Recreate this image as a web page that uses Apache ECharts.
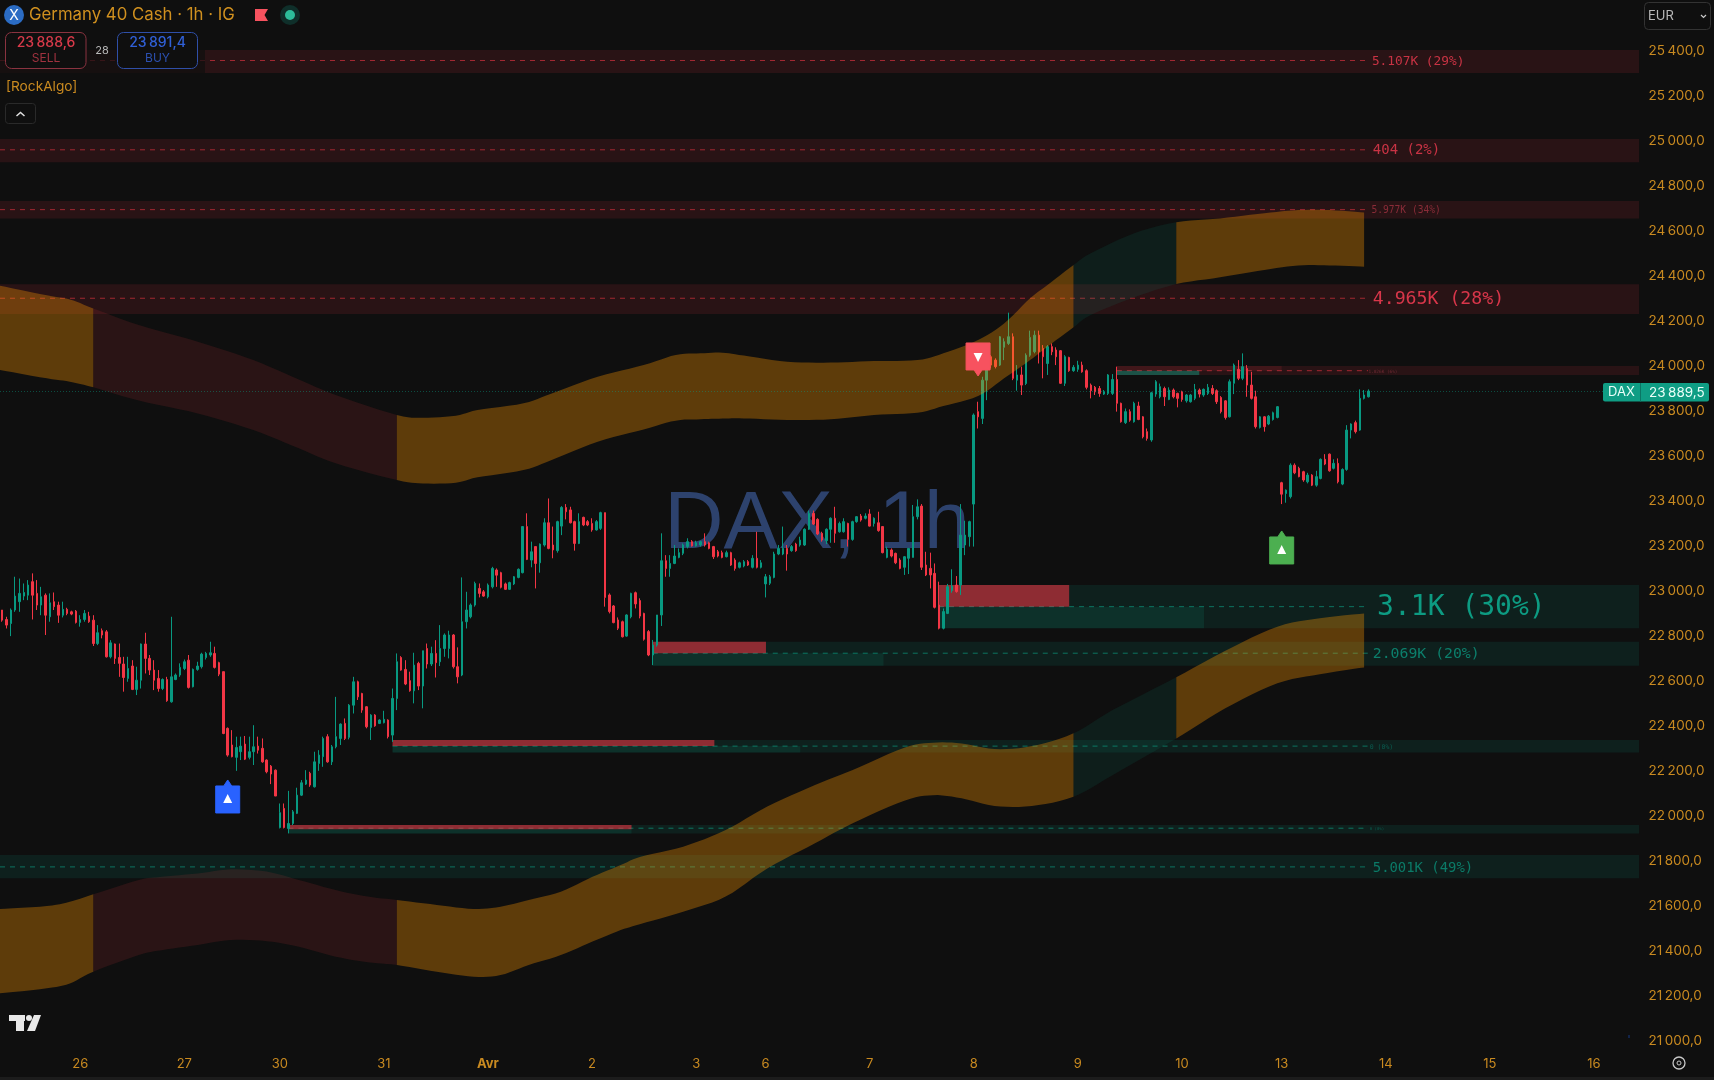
<!DOCTYPE html>
<html><head><meta charset="utf-8">
<style>html,body{margin:0;padding:0;background:#0f0f0f;overflow:hidden}#c{width:1714px;height:1080px}</style>
<script src="https://cdn.jsdelivr.net/npm/echarts@6/dist/echarts.min.js"></script>
</head><body><div id="c"></div>
<script>
const lastPrice = 23889.5;
const barCount = 378;
const tickIndex = [18,42,64,88,112,136,160,176,200,224,248,272,295,319,343,367];
const tickLabels = ['26','27','30','31','Avr','2','3','6','7','8','9','10','13','14','15','16'];
const priceMin = 21000, priceMax = 25600, priceStep = 200;
// [open, close, low, high]
const ohlc = [
[22916,22871,22864,22916],[22874,22849,22834,22886],[22856,22916,22800,22923],[22916,22978,22908,23064],[22953,22990,22908,23056],
[22978,22994,22960,23034],[22982,23027,22960,23049],[23042,22982,22874,23079],[22990,22938,22916,23049],[22938,22975,22893,23019],
[22982,22893,22805,22990],[22886,22948,22864,22990],[22953,22931,22916,22994],[22938,22893,22859,22953],[22893,22919,22883,22953],
[22919,22901,22893,22926],[22908,22898,22893,22913],[22911,22861,22856,22916],[22861,22874,22842,22893],[22874,22901,22864,22916],
[22889,22864,22859,22908],[22871,22767,22756,22893],[22767,22815,22760,22849],[22824,22805,22790,22834],[22819,22708,22705,22827],
[22708,22770,22701,22782],[22765,22701,22676,22767],[22705,22679,22619,22767],[22676,22616,22553,22708],[22612,22656,22597,22708],
[22667,22563,22560,22693],[22563,22604,22538,22664],[22604,22765,22567,22767],[22765,22701,22634,22815],[22701,22649,22627,22716],
[22649,22604,22560,22693],[22612,22567,22553,22649],[22567,22607,22560,22612],[22607,22513,22508,22619],[22508,22619,22504,22886],
[22607,22627,22604,22634],[22627,22661,22619,22679],[22656,22686,22649,22696],[22693,22572,22567,22716],[22575,22652,22572,22656],
[22652,22667,22646,22686],[22664,22720,22656,22726],[22705,22723,22696,22730],[22716,22726,22708,22775],[22723,22661,22656,22753],
[22682,22631,22622,22686],[22642,22367,22364,22642],[22390,22271,22264,22394],[22316,22264,22261,22382],[22261,22305,22201,22353],
[22286,22311,22249,22353],[22320,22253,22249,22356],[22261,22286,22252,22353],[22286,22308,22227,22404],[22311,22293,22278,22353],
[22301,22241,22237,22345],[22249,22197,22190,22252],[22222,22187,22142,22227],[22204,22089,22089,22207],[21949,22015,21945,22056],
[22034,21949,21945,22056],[21945,21967,21923,22112],[21967,22019,21960,22027],[22012,22093,22009,22126],[22093,22148,22089,22160],
[22142,22160,22138,22204],[22190,22138,22130,22197],[22130,22241,22127,22286],[22234,22271,22201,22293],[22264,22345,22219,22353],
[22353,22241,22237,22364],[22241,22308,22227,22316],[22308,22353,22301,22530],[22345,22409,22316,22412],[22412,22345,22338,22434],
[22350,22493,22341,22498],[22493,22597,22456,22619],[22597,22530,22516,22602],[22545,22471,22459,22548],[22486,22397,22390,22489],
[22394,22449,22338,22453],[22449,22401,22397,22453],[22412,22427,22409,22430],[22415,22430,22412,22468],[22427,22353,22345,22430],
[22360,22523,22330,22567],[22523,22686,22471,22723],[22705,22649,22646,22711],[22652,22587,22582,22693],[22602,22557,22553,22642],
[22557,22671,22501,22726],[22679,22578,22560,22686],[22578,22735,22479,22735],[22745,22676,22656,22767],[22676,22723,22667,22753],
[22723,22682,22616,22782],[22686,22745,22667,22849],[22745,22805,22708,22812],[22745,22805,22701,22824],[22805,22664,22656,22809],
[22664,22619,22590,22750],[22627,22864,22622,23061],[22864,22916,22834,22997],[22886,22938,22879,22945],[22938,23034,22931,23042],
[23012,22990,22972,23034],[22997,22978,22975,23005],[22975,23027,22968,23034],[23019,23101,23012,23108],[23094,23071,23019,23101],
[23082,23017,23012,23086],[23032,23008,23005,23038],[23008,23038,23005,23042],[23032,23064,23027,23067],[23061,23097,23057,23101],
[23082,23287,23079,23289],[23287,23141,23138,23346],[23138,23175,23106,23220],[23198,23123,23012,23198],[23126,23209,23082,23212],
[23205,23304,23198,23324],[23304,23190,23186,23412],[23205,23183,23146,23287],[23180,23309,23171,23313],[23289,23372,23249,23378],
[23372,23353,23319,23387],[23361,23304,23301,23375],[23309,23212,23180,23313],[23212,23309,23209,23346],[23328,23294,23289,23331],
[23309,23294,23289,23316],[23301,23272,23264,23324],[23272,23309,23269,23316],[23279,23349,23272,23353],[23349,22972,22931,23349],
[22983,22909,22901,22990],[22934,22860,22857,22938],[22872,22835,22827,22883],[22864,22797,22794,22869],[22800,22894,22797,22897],
[22886,22990,22879,22993],[22993,22943,22923,22998],[22958,22889,22879,22968],[22901,22786,22780,22904],[22820,22716,22711,22827],
[22716,22760,22671,22783],[22760,22894,22753,22894],[22894,23135,22845,23257],[23135,23101,23064,23160],[23101,23123,23064,23160],
[23123,23156,23120,23205],[23150,23171,23146,23190],[23168,23205,23160,23212],[23198,23220,23190,23235],[23220,23201,23198,23227],
[23201,23215,23198,23224],[23205,23220,23198,23224],[23220,23205,23198,23257],[23215,23190,23186,23220],[23198,23153,23143,23201],
[23175,23156,23150,23183],[23171,23150,23146,23180],[23153,23171,23150,23180],[23171,23116,23112,23175],[23138,23101,23091,23146],
[23106,23126,23101,23131],[23112,23131,23106,23138],[23131,23116,23112,23138],[23106,23146,23101,23160],[23146,23106,23101,23264],
[23106,23126,23101,23138],[23032,23064,22972,23076],[23035,23064,23027,23072],[23061,23165,23057,23175],[23165,23190,23160,23205],
[23165,23190,23160,23287],[23190,23165,23091,23205],[23180,23198,23175,23205],[23209,23180,23175,23215],[23205,23227,23198,23242],
[23205,23275,23201,23279],[23275,23346,23272,23358],[23346,23298,23294,23358],[23319,23254,23249,23324],[23257,23227,23220,23264],
[23224,23275,23209,23279],[23275,23324,23215,23328],[23324,23257,23215,23375],[23264,23301,23260,23309],[23264,23309,23260,23324],
[23301,23230,23198,23304],[23230,23309,23224,23313],[23309,23331,23304,23334],[23334,23316,23309,23343],[23324,23334,23319,23346],
[23343,23289,23287,23364],[23301,23324,23287,23328],[23304,23269,23264,23353],[23287,23171,23168,23289],[23150,23186,23146,23198],
[23183,23156,23150,23190],[23168,23126,23120,23171],[23138,23101,23097,23146],[23106,23153,23072,23156],[23146,23190,23076,23190],
[23150,23331,23150,23383],[23331,23375,23319,23408],[23378,23106,23094,23387],[23116,23072,23067,23175],[23101,23072,23012,23171],
[23079,22928,22923,23123],[22938,22835,22830,23042],[22835,22909,22830,22923],[22901,23020,22898,23032],[23002,23023,22993,23097],
[23027,22998,22993,23067],[23027,23249,22983,23387],[23205,23249,23160,23313],[23242,23309,23198,23313],[23387,23783,23198,23790],
[23798,23775,23723,23842],[23768,23938,23743,23953],[23938,24049,23849,24049],[24042,24005,23990,24049],[24027,23998,23990,24035],
[24005,24131,24001,24134],[24084,24109,24027,24124],[24101,24131,24094,24238],[24131,23946,23938,24146],[23938,23961,23891,24005],
[23961,23916,23872,23998],[23923,24049,23916,24057],[24049,24128,24042,24158],[24064,24138,24057,24158],[24138,24064,24012,24158],
[24079,24042,23946,24094],[24012,24087,23961,24094],[24087,24064,24049,24101],[24072,24042,24005,24084],[24069,23924,23921,24072],
[23924,24042,23912,24049],[24039,23980,23975,24042],[23980,23995,23975,24005],[23986,24005,23975,24024],[24005,23975,23971,24020],
[23980,23906,23897,23986],[23916,23891,23857,23923],[23906,23886,23872,23912],[23901,23879,23864,23912],[23876,23886,23872,23894],
[23879,23961,23872,23965],[23879,23941,23872,23965],[23941,23835,23798,23998],[23835,23753,23749,23838],[23749,23798,23743,23812],
[23798,23760,23753,23808],[23753,23835,23749,23842],[23823,23763,23760,23842],[23775,23686,23679,23778],[23709,23679,23669,23723],
[23672,23882,23664,23886],[23876,23931,23864,23938],[23864,23909,23857,23923],[23901,23864,23823,23909],[23852,23894,23849,23906],
[23894,23864,23857,23901],[23879,23857,23817,23882],[23886,23852,23842,23891],[23846,23872,23838,23876],[23842,23872,23838,23876],
[23857,23897,23849,23921],[23894,23876,23861,23901],[23872,23897,23864,23901],[23879,23906,23872,23921],[23901,23879,23872,23916],
[23891,23842,23832,23897],[23861,23798,23790,23867],[23846,23772,23763,23849],[23775,23931,23772,23941],[23924,24005,23876,24012],
[23986,23946,23938,24027],[23946,23998,23938,24057],[23990,23916,23864,24005],[23916,23857,23852,23975],[23864,23731,23723,23891],
[23728,23775,23723,23778],[23775,23731,23709,23778],[23743,23778,23738,23783],[23763,23793,23758,23798],[23772,23820,23768,23823],
[23482,23431,23387,23486],[23434,23449,23393,23452],[23420,23560,23412,23568],[23560,23526,23520,23568],[23546,23509,23506,23553],
[23531,23494,23486,23535],[23486,23516,23479,23526],[23516,23471,23467,23520],[23471,23509,23464,23535],[23501,23586,23497,23590],
[23586,23565,23560,23609],[23609,23535,23531,23612],[23546,23568,23541,23586],[23568,23486,23479,23590],[23476,23541,23471,23546],
[23541,23716,23535,23738],[23716,23743,23679,23746],[23749,23709,23701,23758],[23716,23857,23713,23897],[23857,23872,23852,23894],
[23864,23889.5,23861,23897]
];
// Upper band
const topBandBar = [-0.5,10.3,15.6,21,31.5,45.1,57.9,68.4,76.9,91,97,104.6,109.6,120.2,126.7,137.3,147.9,155.3,161,166.1,171,181,191,201,211,217,225,231,237,241,247,251,261,270.7,280.8,291,298.8,306,314];
const topBandHigh = [24358,24315,24297,24257,24183,24109,24027,23941,23872,23783,23771,23780,23805,23835,23879,23953,24005,24050,24057,24060,24047,24020,24016,24023,24027,24057,24116,24190,24302,24361,24450,24502,24591,24640,24657,24680,24694,24694,24683];
const topBandLow = [23983,23946,23931,23906,23847,23790,23716,23635,23568,23494,23479,23482,23506,23538,23583,23664,23719,23758,23764,23767,23768,23761,23764,23783,23793,23823,23867,23946,24027,24087,24173,24228,24306,24365,24395,24428,24448,24448,24442];
// Lower band
const lowBandBar = [-0.5,10.3,15.6,21,31.5,36.8,45.1,52.7,61,68.4,76.9,84.3,91,100.2,108.7,114.9,121.4,128.8,136.1,142.6,147.2,157,166.8,176.4,187.4,196.1,208,214.6,221.2,228.8,237.4,247,256,270.7,282,294,303.8,314];
const lowBandHigh = [21587,21600,21619,21652,21716,21730,21745,21763,21753,21716,21671,21642,21627,21605,21587,21597,21627,21664,21730,21782,21819,21864,21938,22042,22138,22205,22304,22326,22323,22298,22311,22368,22471,22617,22735,22842,22879,22901];
const lowBandLow = [21212,21234,21256,21308,21382,21404,21427,21449,21444,21419,21375,21350,21338,21308,21286,21293,21338,21382,21442,21493,21520,21575,21642,21767,21879,21968,22068,22093,22079,22045,22045,22086,22182,22345,22479,22590,22630,22661];
const bandBreaks = [-0.5,21,91,247,270.7,314];
// Liquidity levels
const levelTop = [25406,25010,24734,24364,24001,23027,22775,22338,21960,21827];
const levelBottom = [25303,24907,24657,24232,23961,22835,22668,22283,21923,21723];
const levelMid = [25359,24962,24696,24302,23980,22931,22724,22311,21946,21774];
const levelStart = [-0.5,-0.5,-0.5,-0.5,257,216,150,90,66,-0.5];
const levelLabels = ['5.107K (29%)','404 (2%)','5.977K (34%)','4.965K (28%)','1.026K (6%)','3.1K (30%)','2.069K (20%)','0 (0%)','0 (0%)','5.001K (49%)'];
const levelIsSell = [1,1,1,1,1,0,0,0,0,0];
// Order blocks inside levels: start bar, end bar, top, bottom
const redBlocks = [[216,246,23027,22931],[150,176.1,22775,22724],[90,164.2,22338,22311],[66,145.1,21960,21941]];
const tealBlocks = [[216,277.1,22931,22835],[150,203.2,22724,22668],[90,184,22311,22283],[66,145.1,21941,21923],[257,276,23980,23961]];
const sellBlocks = [[257,295,24001,23980]];
// Signals: bar, price
const signalBars = [52,225,295];
const signalPrices = [22076,24041,23183];
const signalKinds = ['up','down','up'];

const TEAL='#089981', RED='#f23645', AX='#c98a20';
const labelSizes=[12.8,14,9.6,18.2,4.4,28,14.8,6.5,4,13.9];
const labelColors=['#c93344','#c93344','#8a2c38','#d8364a','#6e2a33','#0d9b82','#0c7f6c','#0a5a4e','#0a5a4e','#0b7b68'];
const labelBars=[315.8,316,315.7,316,315,317,316,315.3,315.3,316];
const labelDy=1;
const dashEnd=314.9;
const bandColors=['rgba(255,152,0,.33)','rgba(242,54,69,.12)','rgba(255,152,0,.33)','rgba(8,153,129,.11)','rgba(255,152,0,.33)'];

// Rounds the drawn edge between the read points (path smoothing only, in screen space)
function roundEdge(pts,from,to){
  const out=[];
  for(let k=from;k<to;k++){
    const p0=pts[Math.max(k-1,0)],p1=pts[k],p2=pts[k+1],p3=pts[Math.min(k+2,pts.length-1)];
    for(let s=0;s<6;s++){
      const t=s/6,t2=t*t,t3=t2*t;
      const f=(a,b,c,d)=>0.5*(2*b+(c-a)*t+(2*a-5*b+4*c-d)*t2+(3*b-a-3*c+d)*t3);
      out.push([f(p0[0],p1[0],p2[0],p3[0]),f(p0[1],p1[1],p2[1],p3[1])]);
    }
  }
  out.push(pts[to]);
  return out;
}
function bandItem(xs,hi,lo){
  return function(params,api){
    const seg=api.value(0);
    const a=bandBreaks[seg],b=bandBreaks[seg+1];
    const from=xs.indexOf(a),to=xs.indexOf(b);
    const up=xs.map((x,k)=>api.coord([x,hi[k]]));
    const dn=xs.map((x,k)=>api.coord([x,lo[k]]));
    const pts=roundEdge(up,from,to).concat(roundEdge(dn,from,to).reverse());
    return {type:'polygon',shape:{points:pts},style:{fill:bandColors[seg]},silent:true};
  };
}
function rectOf(api,x0,x1,t,b,fill){
  const p=api.coord([x0,t]),q=api.coord([x1,b]);
  return {type:'rect',shape:{x:p[0],y:p[1],width:q[0]-p[0],height:q[1]-p[1]},style:{fill}};
}
const segRows=[[0],[1],[2],[3],[4]];
const base={type:'custom',xAxisIndex:1,yAxisIndex:0,silent:true,clip:false,animation:false};

const chart=echarts.init(document.getElementById('c'),null,{renderer:'canvas',width:1714,height:1080});
const option={
  backgroundColor:'#0f0f0f',animation:false,
  grid:{left:-1,width:barCount*4.34,top:6.3,height:1034.7},
  xAxis:[
    {type:'category',data:Array.from({length:barCount},(_,i)=>String(i)),boundaryGap:true,
     axisLine:{show:false},axisTick:{show:false},splitLine:{show:false},
     axisLabel:{interval:(i)=>tickIndex.includes(i),margin:17,color:AX,fontFamily:'Inter',fontSize:13,
       formatter:(v)=>{const t=tickLabels[tickIndex.indexOf(+v)];return t==='Avr'?'{b|Avr}':t;},
       rich:{b:{color:AX,fontFamily:'Inter',fontSize:13,fontWeight:700}}}},
    {type:'value',min:-0.5,max:barCount-0.5,show:false,splitLine:{show:false}}
  ],
  yAxis:{type:'value',position:'right',min:priceMin,max:priceMax,interval:priceStep,scale:true,
    axisLine:{show:false},axisTick:{show:false},splitLine:{show:false},
    axisLabel:{margin:9,color:AX,fontFamily:'Inter',fontSize:13.5,showMaxLabel:false,padding:[3,0,0,0],
      formatter:(v)=>{const s=v.toFixed(0);return s.slice(0,2)+'\u2009'+s.slice(2)+',0';}}},
  series:[
    Object.assign({},base,{name:'levels',z:1,data:levelTop.map((_,i)=>[i]),
      renderItem(params,api){
        const i=api.value(0), sell=levelIsSell[i];
        const x0=levelStart[i];
        const p0=api.coord([x0,levelMid[i]]),p1=api.coord([dashEnd,levelMid[i]]),lab=api.coord([labelBars[i],levelMid[i]]);
        return {type:'group',children:[
          rectOf(api,x0,barCount-0.6,levelTop[i],levelBottom[i],sell?'rgba(242,54,69,.115)':'rgba(8,153,129,.12)'),
          {type:'line',shape:{x1:p0[0],y1:p0[1],x2:p1[0],y2:p1[1]},style:{stroke:sell?'rgba(242,54,69,.6)':'rgba(12,170,140,.6)',lineWidth:1,lineDash:[5,5]}},
          {type:'text',style:{text:levelLabels[i],x:lab[0],y:lab[1]+labelDy,fill:labelColors[i],font:labelSizes[i]+'px "DejaVu Sans Mono"',align:'left',verticalAlign:'middle'}}
        ]};
      }}),
    Object.assign({},base,{name:'blocks',z:1.5,data:redBlocks.map((_,i)=>[i]).concat(tealBlocks.map((_,i)=>[i+100])).concat([[200]]),
      renderItem(params,api){
        const k=api.value(0);
        if(k===200){const b=sellBlocks[0];return rectOf(api,b[0],b[1],b[2],b[3],'rgba(242,54,69,.12)');}
        if(k>=100){const b=tealBlocks[k-100];return rectOf(api,b[0],b[1],b[2],b[3],k===104?'rgba(12,170,140,.42)':'rgba(8,153,129,.14)');}
        const b=redBlocks[k];return rectOf(api,b[0],b[1],b[2],b[3],'rgba(242,54,69,.56)');
      }}),
    {type:'candlestick',name:'DAX',xAxisIndex:0,yAxisIndex:0,z:2,data:ohlc,barWidth:2,clip:false,
      itemStyle:{color:TEAL,color0:RED,borderColor:TEAL,borderColor0:RED,borderWidth:1},
      markLine:{silent:true,symbol:'none',animation:false,label:{show:false},
        lineStyle:{color:'rgba(8,153,129,.45)',width:1,type:[1,2]},data:[{yAxis:lastPrice}]}},
    Object.assign({},base,{name:'topBand',z:3,data:segRows,renderItem:bandItem(topBandBar,topBandHigh,topBandLow)}),
    Object.assign({},base,{name:'lowBand',z:3,data:segRows,renderItem:bandItem(lowBandBar,lowBandHigh,lowBandLow)}),
    Object.assign({},base,{name:'signals',z:6,data:signalBars.map((_,i)=>[i]),
      renderItem(params,api){
        const i=api.value(0),c=api.coord([signalBars[i],signalPrices[i]]),x=c[0],y=c[1];
        const kind=signalKinds[i];
        const fill=i===0?'#2962ff':(i===1?'#f7525f':'#4caf50');
        const d=kind==='up'?1:-1;
        const body=[[x-12,y-13*d],[x-4,y-13*d],[x,y-19*d],[x+4,y-13*d],[x+12,y-13*d],[x+12,y+14*d],[x-12,y+14*d]];
        const tri=[[x,y-5*d],[x+4.5,y+4*d],[x-4.5,y+4*d]];
        return {type:'group',children:[
          {type:'polygon',shape:{points:body},style:{fill,lineJoin:'round',stroke:fill,lineWidth:1}},
          {type:'polygon',shape:{points:tri},style:{fill:'#ffffff'}}
        ]};
      }})
  ]
};
chart.setOption(option);

const tagY=chart.convertToPixel({yAxisIndex:0},lastPrice);
const UI='Inter', OVER=50;
const txt=(text,x,y,fill,size,align,font)=>({type:'text',silent:true,z:OVER,style:{text,x,y:y+1,fill,font:font||(size+'px '+UI),align:align||'left',verticalAlign:'middle'}});
const box=(x,y,w,h,r,stroke,fill)=>({type:'rect',silent:true,z:OVER,shape:{x,y,width:w,height:h,r},style:{stroke,fill,lineWidth:1}});
const fillRect=(x,y,width,height,fill,r)=>({type:'rect',silent:true,z:OVER,shape:{x,y,width,height,r:r||0},style:{fill}});
const disc=(cx,cy,r,style)=>({type:'circle',silent:true,z:OVER,shape:{cx,cy,r},style});
const poly=(points,fill)=>({type:'polygon',silent:true,z:OVER,shape:{points},style:{fill}});
const chev=(points,stroke,lineWidth)=>({type:'polyline',silent:true,z:OVER,shape:{points},style:{stroke,lineWidth,fill:'none'}});
chart.setOption({graphic:{elements:[
  {type:'text',silent:true,z:0,style:{text:'DAX, 1h',x:817,y:525,fill:'rgba(64,98,168,.62)',font:'82px "Liberation Sans"',align:'center',verticalAlign:'middle'}},
  fillRect(0,30,205,44,'rgba(15,15,15,.72)'),
  disc(14,15,10,{fill:'#2b6cc4'}),
  txt('X',14,15,'#ffffff',14,'center'),
  txt('Germany 40 Cash \u00b7 1h \u00b7 IG',29,14,'#d0901f',16.8),
  poly([[255,9],[268,9],[264.5,15],[268,21],[255,21]],'#f7525f'),
  disc(290,15,10,{fill:'#0f2f2a'}),
  disc(290,15,5,{fill:'#2dbd9a'}),
  box(5.5,32.5,80.5,36,6,'#8a3340','#0f0f0f'),
  txt('23\u2009888,6',46,42,'#d93a4a',14,'center','500 14px Inter'),
  txt('SELL',46,57,'#a0323f',12,'center'),
  txt('28',102,49.5,'#b8b8b8',11,'center'),
  box(117.5,32.5,80,36,6,'#2f4fa8','#0f0f0f'),
  txt('23\u2009891,4',157.5,42,'#3060d8',14,'center','500 14px Inter'),
  txt('BUY',157.5,57,'#2c50b0',12,'center'),
  txt('[RockAlgo]',6,86,'#c98a20',13.7),
  box(5.5,103.5,30,20,3,'#2a2a2a','#0f0f0f'),
  chev([[16.5,116],[20.5,112.5],[24.5,116]],'#e0e0e0',1.5),
  box(1644.5,2.5,66,27,4,'#333333','#0f0f0f'),
  txt('EUR',1648,15,'#b8b8b8',13),
  chev([[1701,15],[1703.5,17.5],[1706,15]],'#c8c8c8',1.2),
  fillRect(1603,tagY-8,106,18.5,'#0f9d84',2),
  fillRect(1640,tagY-8,1,18.5,'#0b7564'),
  txt('DAX',1621.5,tagY+0.5,'#eafff9',13,'center'),
  txt('23\u2009889,5',1649,tagY+0.5,'#eafff9',13.5),
  fillRect(9,1015,16,6,'#e8e8e8'),
  fillRect(16,1015,8,16,'#e8e8e8'),
  disc(29,1018,3,{fill:'#e8e8e8'}),
  poly([[34,1015],[41,1015],[35,1031],[27,1031]],'#e8e8e8'),
  disc(1679,1063,6,{stroke:'#c8c8c8',lineWidth:1.3,fill:'none'}),
  disc(1679,1063,2,{stroke:'#c8c8c8',lineWidth:1,fill:'none'}),
  fillRect(1628,1035,2,3,'#12244a'),
  fillRect(0,1077,1714,3,'#1c1c1c')
]}});
</script></body></html>
